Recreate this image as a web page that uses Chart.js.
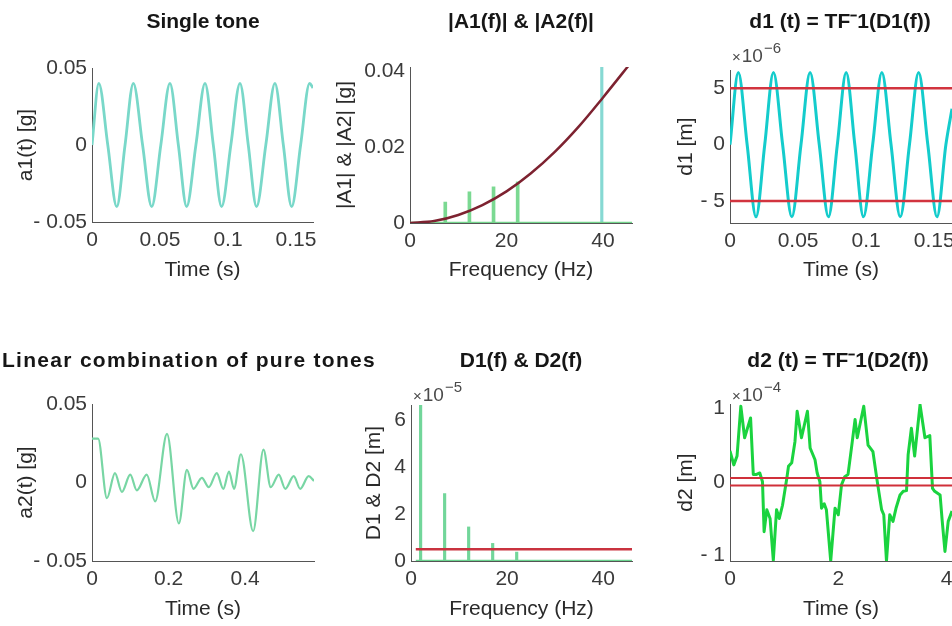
<!DOCTYPE html>
<html>
<head>
<meta charset="utf-8">
<script src="https://cdn.jsdelivr.net/npm/chart.js@4.4.1/dist/chart.umd.min.js"></script>
<style>
    html, body { margin: 0; padding: 0; background: #fff; }
    body { position: relative; width: 952px; height: 626px; overflow: hidden; }
    canvas { position: absolute; }
</style>
</head>
<body>
<canvas id="p1"></canvas>
<canvas id="p2"></canvas>
<canvas id="p3"></canvas>
<canvas id="p4"></canvas>
<canvas id="p5"></canvas>
<canvas id="p6"></canvas>
<script>
// ---- data ----

// single tone a1(t) [g]
const a1Time = [0, 0.005, 0.0116, 0.0182, 0.0243, 0.0304, 0.0372, 0.0439, 0.0506, 0.0573, 0.0635, 0.0696, 0.0764,
    0.0831, 0.0892, 0.0953, 0.1021, 0.1088, 0.1149, 0.121, 0.1278, 0.1345, 0.1407, 0.1468, 0.1534, 0.16, 0.1625];
const a1Values = [0, 0.04, 0, -0.04, 0, 0.04, 0, -0.04, 0, 0.04, 0, -0.04, 0,
    0.04, 0, -0.04, 0, 0.04, 0, -0.04, 0, 0.04, 0, -0.04, 0, 0.04, 0.037];

// spectra |A1(f)| and |A2(f)| [g]
const a1Freq = [40];
const a1Amp = [0.041];
const a2Freq = [7, 12, 17, 22];
const a2Amp = [0.0055, 0.0082, 0.0095, 0.0108];
const accBaseFreq = [0, 46];
const accCurveFreq = [0, 5, 10, 15, 20, 25, 30, 35, 40, 46];
const accCurveValues = [0, 0.0005, 0.0021, 0.0047, 0.0083, 0.013, 0.0187, 0.0254, 0.033, 0.0425];

// d1(t) [x1e-6 m]
const d1Time = [0, 0.0061, 0.0126, 0.0191, 0.0255, 0.0319, 0.03865, 0.0454, 0.0521, 0.0588, 0.06555, 0.0723, 0.0788,
    0.0853, 0.09165, 0.098, 0.10475, 0.1115, 0.11825, 0.125, 0.13175, 0.1385, 0.14525, 0.152, 0.1585, 0.163];
const d1Values = [0, 6.4, 0, -6.4, 0, 6.4, 0, -6.4, 0, 6.4, 0, -6.4, 0,
    6.4, 0, -6.4, 0, 6.4, 0, -6.4, 0, 6.4, 0, -6.4, 0, 3.2];
const d1Limit = 5;

// linear combination a2(t) [g]
const a2Time = [0, 0.016, 0.039, 0.060, 0.078, 0.100, 0.117, 0.143, 0.165, 0.196, 0.227, 0.248, 0.265, 0.287, 0.305,
    0.326, 0.343, 0.358, 0.371, 0.389, 0.421, 0.448, 0.467, 0.488, 0.505, 0.527, 0.544, 0.566, 0.58];
const a2Values = [0.028, 0.028, -0.010, 0.006, -0.006, 0.005, -0.005, 0.005, -0.012, 0.031, -0.026, 0.008, -0.004, 0.003, -0.003,
    0.006, -0.004, 0.007, -0.004, 0.018, -0.031, 0.021, -0.003, 0.005, -0.004, 0.004, -0.004, 0.004, 0.001];

// spectra D1(f), D2(f) [x1e-5 m]
const d2Freq = [2, 7, 12, 17, 22];
const d2Amp = [6.64, 2.87, 1.45, 0.75, 0.38];
const dispBaseFreq = [1, 46];
const dispLimit = 0.5;

// d2(t) [x1e-4 m]
const d2Time = [0, 0.07, 0.13, 0.2, 0.27, 0.38, 0.43, 0.49, 0.55, 0.6, 0.63, 0.68, 0.74, 0.8, 0.86, 0.91, 0.97,
    1.05, 1.08, 1.14, 1.2, 1.24, 1.32, 1.43, 1.48, 1.57, 1.61, 1.66, 1.69, 1.74, 1.78, 1.86, 1.94, 2.0,
    2.06, 2.12, 2.18, 2.25, 2.31, 2.35, 2.47, 2.55, 2.64, 2.71, 2.8, 2.84, 2.89, 2.95, 3.01, 3.07, 3.14,
    3.2, 3.26, 3.29, 3.35, 3.41, 3.51, 3.6, 3.69, 3.74, 3.78, 3.88, 3.92, 3.97, 4.03, 4.1];
const d2Values = [0.42, 0.23, 0.35, 1.03, 0.6, 0.87, 0.1, 0.1, 0.12, 0.0, -0.68, -0.38, -0.5, -1.07, -0.38, -0.5, -0.32,
    0.05, 0.21, 0.26, 0.55, 0.96, 0.6, 0.96, 0.46, 0.3, 0.12, 0.0, -0.36, -0.3, -0.38, -1.08, -0.36, -0.45,
    -0.04, 0.07, 0.1, 0.5, 0.85, 0.6, 1.03, 0.5, 0.41, 0.05, -0.38, -0.45, -1.08, -0.45, -0.54, -0.35, -0.18,
    -0.13, -0.12, 0.37, 0.73, 0.35, 1.05, 0.6, 0.63, -0.09, -0.13, -0.18, -0.54, -0.95, -0.54, -0.4];
const d2Limit = 0.05;

// tick values and labels
const timeTicksShort = [0, 0.05, 0.1, 0.15];
const timeLabelsShort = ['0', '0.05', '0.1', '0.15'];
const timeTicksComb = [0, 0.2, 0.4];
const timeLabelsComb = ['0', '0.2', '0.4'];
const timeTicksLong = [0, 2, 4];
const timeLabelsLong = ['0', '2', '4'];
const freqTicks = [0, 20, 40];
const freqLabels = ['0', '20', '40'];
const accTicks = [-0.05, 0, 0.05];
const accLabels = ['- 0.05', '0', '0.05'];
const specTicks = [0, 0.02, 0.04];
const specLabels = ['0', '0.02', '0.04'];
const d1Ticks = [-5, 0, 5];
const d1Labels = ['- 5', '0', '5'];
const dispSpecTicks = [0, 2, 4, 6];
const dispSpecLabels = ['0', '2', '4', '6'];
const d2Ticks = [-1, 0, 1];
const d2Labels = ['- 1', '0', '1'];

// ---- drawing ----
const FONT = '"Liberation Sans", Arial, Helvetica, sans-serif';
const LINE_H = 21 * 1.2;

const xy = (xs, ys) => xs.map((x, i) => ({ x: x, y: ys[i] }));
const flat = (xs, y) => xs.map(x => ({ x: x, y: y }));

const panelText = {
    id: 'panelText',
    afterDraw(chart, args, opts) {
        const ctx = chart.ctx;
        ctx.save();
        if (opts.title) {
            const t = opts.title;
            ctx.font = `bold 21px ${FONT}`;
            ctx.fillStyle = '#161616';
            ctx.textAlign = 'center';
            ctx.textBaseline = 'middle';
            ctx.letterSpacing = (t.spacing || 0) + 'px';
            ctx.fillText(t.text, t.x - opts.left, t.y - opts.top);
            ctx.letterSpacing = '0px';
        }
        if (opts.exponent) {
            const e = opts.exponent;
            let x = e.x - opts.left;
            const base = e.y - opts.top;
            ctx.fillStyle = '#4a4a4a';
            ctx.textAlign = 'left';
            ctx.textBaseline = 'alphabetic';
            ctx.font = `15px ${FONT}`;
            ctx.fillText('\u00d7', x, base);
            x += ctx.measureText('\u00d7').width + 1;
            ctx.font = `19px ${FONT}`;
            ctx.fillText('10', x, base);
            x += ctx.measureText('10').width + 1;
            ctx.font = `15px ${FONT}`;
            ctx.fillText(e.text, x, base - 9);
        }
        ctx.restore();
    }
};

function axis(box, min, max, ticks, labels, title, isX) {
    return {
        type: 'linear',
        min: min,
        max: max,
        offset: false,
        grid: { display: false, drawTicks: false },
        border: { display: true, color: '#555', width: 1 },
        afterBuildTicks: scale => { scale.ticks = ticks.map(v => ({ value: v })); },
        afterFit: scale => {
            if (isX) scale.height = box.xh; else scale.width = box.yw;
        },
        ticks: {
            autoSkip: false,
            maxRotation: 0,
            padding: isX ? 6 : 5,
            color: '#3a3a3a',
            font: { family: FONT, size: 21 },
            callback: (value, index) => labels[index]
        },
        title: {
            display: true,
            text: title.text,
            color: '#2a2a2a',
            font: { family: FONT, size: 21 },
            padding: isX
                ? { top: 0, bottom: box.B + box.xh - title.pos - LINE_H / 2 }
                : { top: title.pos - (box.L - box.yw) - LINE_H / 2, bottom: 0 }
        }
    };
}

function makePanel(id, box, datasets, xAxis, yAxis, text) {
    const canvas = document.getElementById(id);
    const rp = box.rp || 24;
    const left = box.L - box.yw;
    const top = box.T - box.tt;
    canvas.width = box.R - box.L + box.yw + rp;
    canvas.height = box.B - box.T + box.tt + box.xh;
    canvas.style.left = left + 'px';
    canvas.style.top = top + 'px';

    new Chart(canvas, {
        type: 'line',
        data: { datasets: datasets },
        options: {
            responsive: false,
            animation: false,
            devicePixelRatio: 1,
            layout: { padding: { left: 0, top: box.tt, right: rp, bottom: 0 } },
            elements: { point: { radius: 0 } },
            plugins: {
                legend: { display: false },
                tooltip: { enabled: false },
                panelText: Object.assign({ left: left, top: top }, text)
            },
            scales: {
                x: axis(box, xAxis.min, xAxis.max, xAxis.ticks, xAxis.labels, xAxis.title, true),
                y: axis(box, yAxis.min, yAxis.max, yAxis.ticks, yAxis.labels, yAxis.title, false)
            }
        },
        plugins: [panelText]
    });
}

function line(data, color, width, order, smooth) {
    return {
        type: 'line', data: data, borderColor: color, borderWidth: width, order: order,
        fill: false, pointRadius: 0, borderJoinStyle: 'round',
        cubicInterpolationMode: smooth ? 'monotone' : 'default', tension: 0
    };
}

function stems(data, color, width, order) {
    return {
        type: 'bar', data: data, backgroundColor: color, borderWidth: 0,
        barThickness: width, order: order
    };
}

// Single tone
makePanel('p1', { L: 92, T: 68, R: 313, B: 222, yw: 92, tt: 68, xh: 68 },
    [line(xy(a1Time, a1Values), '#79d8c9', 2.8, 1, true)],
    { min: 0, max: 0.1625, ticks: timeTicksShort, labels: timeLabelsShort, title: { text: 'Time (s)', pos: 270 } },
    { min: -0.05, max: 0.05, ticks: accTicks, labels: accLabels, title: { text: 'a1(t) [g]', pos: 26 } },
    { title: { text: 'Single tone', x: 203, y: 22 } });

// |A1(f)| & |A2(f)|
makePanel('p2', { L: 410, T: 67, R: 632, B: 223, yw: 85, tt: 67, xh: 67 },
    [
        line(xy(accCurveFreq, accCurveValues), '#7d2230', 2.5, 0, true),
        line(flat(accBaseFreq, 0), '#74d58c', 2.5, 1, false),
        stems(xy(a1Freq, a1Amp), '#86d9d3', 2.5, 2),
        stems(xy(a2Freq, a2Amp), '#7bd992', 3, 2)
    ],
    { min: 0, max: 46, ticks: freqTicks, labels: freqLabels, title: { text: 'Frequency (Hz)', pos: 270 } },
    { min: 0, max: 0.041, ticks: specTicks, labels: specLabels, title: { text: '|A1| & |A2| [g]', pos: 345 } },
    { title: { text: '|A1(f)| & |A2(f)|', x: 521, y: 22 } });

// d1(t)
makePanel('p3', { L: 730, T: 70, R: 952, B: 223, yw: 60, tt: 70, xh: 67 },
    [
        line(flat([0, 0.163], d1Limit), '#d2343f', 2.5, 0, false),
        line(flat([0, 0.163], -d1Limit), '#d2343f', 2.5, 0, false),
        line(xy(d1Time, d1Values), '#14cccc', 3, 1, true)
    ],
    { min: 0, max: 0.163, ticks: timeTicksShort, labels: timeLabelsShort, title: { text: 'Time (s)', pos: 270 } },
    { min: -6.95, max: 6.63, ticks: d1Ticks, labels: d1Labels, title: { text: 'd1 [m]', pos: 686 } },
    { title: { text: 'd1 (t) = TF\u207b1(D1(f))', x: 840, y: 22 }, exponent: { text: '\u22126', x: 732, y: 62 } });

// Linear combination of pure tones
makePanel('p4', { L: 92, T: 404, R: 314, B: 561, yw: 92, tt: 84, xh: 65, rp: 70 },
    [line(xy(a2Time, a2Values), '#78d6a4', 2.2, 1, true)],
    { min: 0, max: 0.58, ticks: timeTicksComb, labels: timeLabelsComb, title: { text: 'Time (s)', pos: 609 } },
    { min: -0.05, max: 0.05, ticks: accTicks, labels: accLabels, title: { text: 'a2(t) [g]', pos: 26 } },
    { title: { text: 'Linear combination of pure tones', x: 189, y: 361, spacing: 1.3 } });

// D1(f) & D2(f)
makePanel('p5', { L: 411, T: 405, R: 632, B: 561, yw: 50, tt: 85, xh: 65 },
    [
        line(flat([1, 46], dispLimit), '#c9323f', 2.5, 0, false),
        line(flat(dispBaseFreq, 0), '#6bd48f', 2.5, 1, false),
        stems(xy(d2Freq, d2Amp), '#72d69a', 2.5, 2)
    ],
    { min: 0, max: 46, ticks: freqTicks, labels: freqLabels, title: { text: 'Frequency (Hz)', pos: 609 } },
    { min: 0, max: 6.64, ticks: dispSpecTicks, labels: dispSpecLabels, title: { text: 'D1 & D2 [m]', pos: 374 } },
    { title: { text: 'D1(f) & D2(f)', x: 521, y: 361 }, exponent: { text: '\u22125', x: 413, y: 401 } });

// d2(t)
makePanel('p6', { L: 730, T: 404, R: 952, B: 561, yw: 60, tt: 84, xh: 65 },
    [
        line(flat([0, 4.1], d2Limit), '#d0303a', 2, 0, false),
        line(flat([0, 4.1], -d2Limit), '#d0303a', 2, 0, false),
        line(xy(d2Time, d2Values), '#1ad33f', 3, 1, false)
    ],
    { min: 0, max: 4.1, ticks: timeTicksLong, labels: timeLabelsLong, title: { text: 'Time (s)', pos: 609 } },
    { min: -1.08, max: 1.06, ticks: d2Ticks, labels: d2Labels, title: { text: 'd2 [m]', pos: 686 } },
    { title: { text: 'd2 (t) = TF\u207b1(D2(f))', x: 838, y: 361 }, exponent: { text: '\u22124', x: 732, y: 401 } });
</script>
</body>
</html>
